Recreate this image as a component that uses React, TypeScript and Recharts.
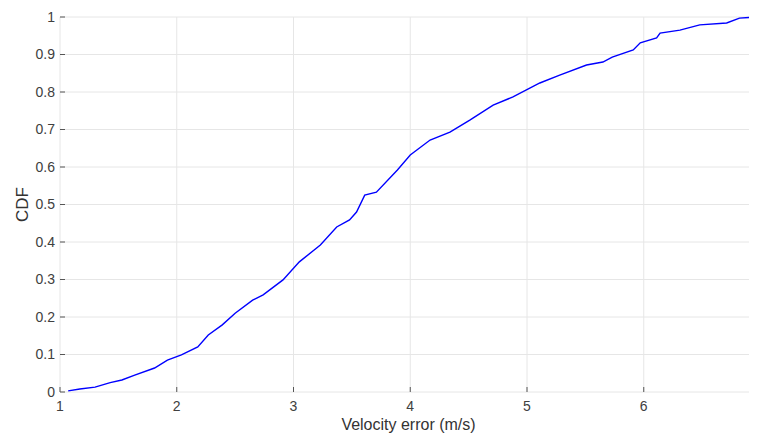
import { LineChart, Line, XAxis, YAxis, CartesianGrid } from "recharts";

const velocityError = [
  1.07, 1.17, 1.3, 1.43, 1.53, 1.64, 1.81, 1.92, 2.04, 2.18, 2.27, 2.39, 2.5,
  2.65, 2.74, 2.91, 3.05, 3.23, 3.37, 3.48, 3.54, 3.61, 3.71, 3.89, 4.0, 4.17,
  4.34, 4.51, 4.71, 4.88, 5.11, 5.28, 5.51, 5.65, 5.73, 5.91, 5.97, 6.11, 6.14,
  6.31, 6.48, 6.71, 6.82, 6.97,
];
const cdf = [
  0.003, 0.008, 0.013, 0.025, 0.032, 0.045, 0.064, 0.085, 0.099, 0.12, 0.152,
  0.179, 0.21, 0.245, 0.259, 0.299, 0.347, 0.392, 0.44, 0.459, 0.48, 0.525,
  0.533, 0.592, 0.632, 0.672, 0.693, 0.725, 0.765, 0.787, 0.824, 0.845, 0.872,
  0.88, 0.893, 0.912, 0.931, 0.944, 0.957, 0.965, 0.979, 0.984, 0.997, 1.0,
];
const xTicks = [1, 2, 3, 4, 5, 6];
const yTicks = [0, 0.1, 0.2, 0.3, 0.4, 0.5, 0.6, 0.7, 0.8, 0.9, 1];

const data = velocityError.map((x, i) => ({ x, cdf: cdf[i] }));

const font = "'Liberation Sans', Arial, Helvetica, sans-serif";
const tickText = { fontSize: 14, fill: "#404040", fontFamily: font };
const axisGray = "#555";

export default function App() {
  return (
    <LineChart
      width={749}
      height={430}
      data={data}
      margin={{ top: 9, right: 0, bottom: 8, left: 12 }}
    >
      <CartesianGrid stroke="#e6e6e6" />
      <XAxis
        dataKey="x"
        type="number"
        domain={[1, 6.97]}
        ticks={xTicks}
        allowDataOverflow
        axisLine={false}
        tickSize={-5}
        tickMargin={14}
        tickLine={{ stroke: axisGray }}
        tick={tickText}
        height={38}
        label={{
          value: "Velocity error (m/s)",
          position: "insideBottom",
          offset: 0,
          style: { fontSize: 16, fill: "#333", fontFamily: font },
        }}
      />
      <XAxis
        xAxisId="top"
        orientation="top"
        dataKey="x"
        type="number"
        domain={[1, 6.97]}
        ticks={xTicks}
        allowDataOverflow
        height={0}
        axisLine={{ stroke: "#262626", strokeWidth: 1.2 }}
        tickSize={-5}
        tickLine={{ stroke: axisGray }}
        tickFormatter={() => ""}
      />
      <YAxis
        type="number"
        domain={[0, 1]}
        ticks={yTicks}
        width={40}
        axisLine={false}
        tickSize={-5}
        tickMargin={10}
        tickLine={{ stroke: axisGray }}
        tick={tickText}
        label={{
          value: "CDF",
          angle: -90,
          position: "insideLeft",
          offset: 2,
          style: { fontSize: 17, fill: "#333", fontFamily: font, textAnchor: "middle" },
        }}
      />
      <YAxis
        yAxisId="right"
        orientation="right"
        mirror
        type="number"
        domain={[0, 1]}
        ticks={yTicks}
        width={0}
        axisLine={false}
        tickSize={5}
        tickLine={{ stroke: axisGray }}
        tickFormatter={() => ""}
      />
      <Line
        type="linear"
        dataKey="cdf"
        stroke="#0000ff"
        strokeWidth={1.4}
        dot={false}
        isAnimationActive={false}
      />
    </LineChart>
  );
}
